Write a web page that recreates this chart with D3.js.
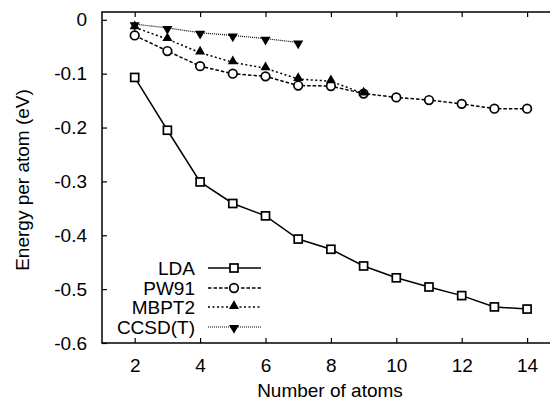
<!DOCTYPE html>
<html>
<head>
<meta charset="utf-8">
<script src="https://cdn.jsdelivr.net/npm/d3@7"></script>
<style>
  body { margin: 0; background: #fff; }
  svg { display: block; font-family: "Liberation Sans", Arial, sans-serif; }
</style>
</head>
<body>
<svg id="chart"></svg>
<script>
// atoms on the x axis
const atoms = [2, 3, 4, 5, 6, 7, 8, 9, 10, 11, 12, 13, 14];

const lda = [-0.107, -0.205, -0.301, -0.341, -0.364, -0.407, -0.426, -0.457, -0.479, -0.496, -0.512, -0.533, -0.537];
const pw91 = [-0.029, -0.058, -0.086, -0.100, -0.105, -0.122, -0.123, -0.137, -0.144, -0.149, -0.156, -0.165, -0.165];
const mbpt2 = [-0.014, -0.036, -0.061, -0.079, -0.090, -0.110, -0.114, -0.137];
const ccsdt = [-0.008, -0.015, -0.024, -0.029, -0.035, -0.042];

const seriesNames = ["LDA", "PW91", "MBPT2", "CCSD(T)"];
const xTicks = [2, 4, 6, 8, 10, 12, 14];
const yTicks = [0, -0.1, -0.2, -0.3, -0.4, -0.5, -0.6];

const width = 550, height = 401;
const margin = {top: 12, left: 102, bottom: 58};

const svg = d3.select("#chart")
    .attr("width", width)
    .attr("height", height);

// the right frame sits outside the picture (x domain runs to 15)
const x = d3.scaleLinear()
    .domain([1, 15])
    .range([margin.left, margin.left + 14 * 32.7]);

const y = d3.scaleLinear()
    .domain([-0.6, 0.0145])
    .range([height - margin.bottom, margin.top]);

const series = [
    {name: seriesNames[0], values: lda, dash: null, width: 1.5, marker: "square"},
    {name: seriesNames[1], values: pw91, dash: "3.5,2", width: 1.5, marker: "circle"},
    {name: seriesNames[2], values: mbpt2, dash: "2,2.5", width: 1.5, marker: "up"},
    {name: seriesNames[3], values: ccsdt, dash: "1,1", width: 1.2, marker: "down"},
];

// frame
svg.append("rect")
    .attr("x", x(1))
    .attr("y", y(0.0145))
    .attr("width", x(15) - x(1))
    .attr("height", y(-0.6) - y(0.0145))
    .attr("fill", "none")
    .attr("stroke", "#000")
    .attr("stroke-width", 1.5);

// axes with inward ticks
const fmt = (d) => d === 0 ? "0" : d3.format(".1f")(d).replace("−", "-");

const xAxis = svg.append("g")
    .attr("transform", "translate(0," + y(-0.6) + ")")
    .call(d3.axisBottom(x).tickValues(xTicks).tickSize(-5).tickPadding(12).tickFormat(d3.format("d")));

const xTop = svg.append("g")
    .attr("transform", "translate(0," + y(0.0145) + ")")
    .call(d3.axisTop(x).tickValues(xTicks).tickSize(-5).tickFormat(""));

const yAxis = svg.append("g")
    .attr("transform", "translate(" + x(1) + ",0)")
    .call(d3.axisLeft(y).tickValues(yTicks).tickSize(-5).tickPadding(15).tickFormat(fmt));

[xAxis, xTop, yAxis].forEach((g) => {
    g.select(".domain").remove();
    g.selectAll("line").attr("stroke", "#000").attr("stroke-width", 1.2);
    g.selectAll("text").attr("font-size", 19).attr("fill", "#000")
        .attr("font-family", "Liberation Sans, Arial, sans-serif");
});
xAxis.selectAll("text").attr("dy", "0.9em");

svg.append("text")
    .attr("x", 330)
    .attr("y", 397)
    .attr("text-anchor", "middle")
    .attr("font-size", 19)
    .text("Number of atoms");

svg.append("text")
    .attr("transform", "translate(29,180) rotate(-90)")
    .attr("text-anchor", "middle")
    .attr("font-size", 19)
    .text("Energy per atom (eV)");

function drawMarker(g, type, cx, cy) {
    if (type === "square") {
        g.append("rect")
            .attr("x", cx - 4).attr("y", cy - 4)
            .attr("width", 8).attr("height", 8)
            .attr("fill", "#fff").attr("stroke", "#000").attr("stroke-width", 1.7);
    } else if (type === "circle") {
        g.append("circle")
            .attr("cx", cx).attr("cy", cy).attr("r", 4.3)
            .attr("fill", "#fff").attr("stroke", "#000").attr("stroke-width", 1.7);
    } else if (type === "up") {
        g.append("path")
            .attr("d", d3.symbol(d3.symbolTriangle, 44)())
            .attr("transform", "translate(" + cx + "," + (cy - 1) + ")")
            .attr("fill", "#000");
    } else {
        g.append("path")
            .attr("d", d3.symbol(d3.symbolTriangle, 44)())
            .attr("transform", "translate(" + cx + "," + (cy + 1) + ") rotate(180)")
            .attr("fill", "#000");
    }
}

const line = d3.line()
    .x((d) => x(d[0]))
    .y((d) => y(d[1]));

series.forEach((s) => {
    const pts = s.values.map((v, i) => [atoms[i], v]);
    const g = svg.append("g");
    g.append("path")
        .attr("d", line(pts))
        .attr("fill", "none")
        .attr("stroke", "#000")
        .attr("stroke-width", s.width)
        .attr("stroke-dasharray", s.dash);
    pts.forEach((p) => drawMarker(g, s.marker, x(p[0]), y(p[1])));
});

// legend
const legendY = [268, 288, 307, 327];
series.forEach((s, i) => {
    const g = svg.append("g");
    g.append("text")
        .attr("x", 195)
        .attr("y", legendY[i])
        .attr("dy", "0.35em")
        .attr("text-anchor", "end")
        .attr("font-size", 19)
        .text(s.name);
    g.append("line")
        .attr("x1", 208).attr("x2", 261)
        .attr("y1", legendY[i]).attr("y2", legendY[i])
        .attr("stroke", "#000")
        .attr("stroke-width", s.width)
        .attr("stroke-dasharray", s.dash);
    drawMarker(g, s.marker, 234, legendY[i]);
});
</script>
</body>
</html>
